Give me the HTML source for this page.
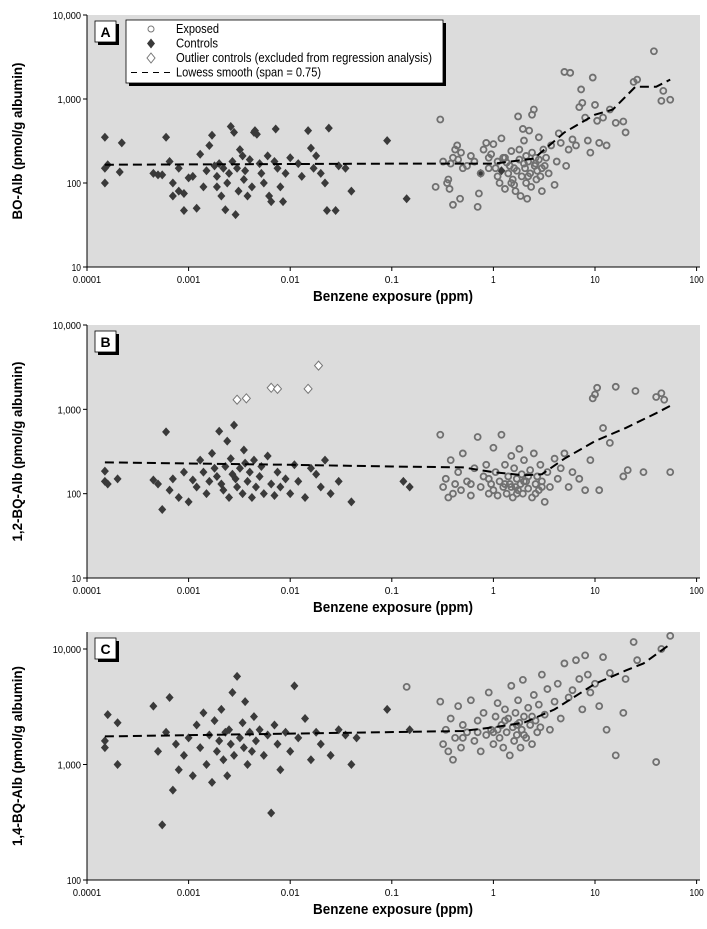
<!DOCTYPE html>
<html><head><meta charset="utf-8">
<style>
html,body{margin:0;padding:0;background:#fff;}
svg{display:block;}
text{font-family:"Liberation Sans Narrow","Liberation Sans",sans-serif;}
</style></head>
<body>
<svg id="fig" width="707" height="929" viewBox="0 0 707 929" xmlns="http://www.w3.org/2000/svg"></svg>
<script>
const xTickLabels=["0.0001","0.001","0.01","0.1","1","10","100"];
const yTicksAB=["10","100","1,000","10,000"];
const yTicksC=["100","1,000","10,000"];

const ctrlA=[[0.00015,350],[0.00015,150],[0.00015,100],[0.00016,165],[0.00022,300],[0.00021,135],[0.00045,130],[0.0005,125],[0.00055,125],[0.0006,350],[0.00065,180],[0.0007,100],[0.0007,70],[0.0008,80],[0.0008,150],[0.0009,75],[0.0009,47],[0.001,115],[0.0011,120],[0.0012,50],[0.0013,220],[0.0014,90],[0.0015,140],[0.0016,280],[0.0017,370],[0.0018,160],[0.0019,120],[0.0019,90],[0.002,170],[0.0021,70],[0.0022,150],[0.0023,48],[0.0024,100],[0.0025,130],[0.0026,470],[0.0027,180],[0.0028,400],[0.0029,42],[0.003,150],[0.0031,80],[0.0032,250],[0.0034,210],[0.0035,110],[0.0036,140],[0.0038,70],[0.004,190],[0.0042,90],[0.0044,400],[0.0045,420],[0.0047,380],[0.005,170],[0.0052,130],[0.0055,100],[0.006,210],[0.0062,70],[0.0065,60],[0.007,180],[0.0072,440],[0.0075,150],[0.008,90],[0.0085,60],[0.009,130],[0.01,200],[0.012,170],[0.013,120],[0.015,420],[0.016,260],[0.017,150],[0.018,210],[0.02,130],[0.022,100],[0.023,47],[0.024,450],[0.028,47],[0.03,160],[0.035,150],[0.04,80],[0.09,320],[0.14,65],[1.2,140],[0.75,130]];
const expA=[[0.27,90],[0.3,570],[0.32,180],[0.35,100],[0.36,110],[0.37,85],[0.38,170],[0.4,55],[0.4,200],[0.42,250],[0.44,280],[0.45,190],[0.47,65],[0.48,230],[0.5,150],[0.55,160],[0.6,210],[0.65,180],[0.7,52],[0.72,75],[0.75,130],[0.8,250],[0.85,300],[0.9,200],[0.95,220],[1,290],[1.05,150],[1.1,120],[1.15,100],[1.2,340],[1.25,200],[1.3,85],[1.35,175],[1.4,130],[1.45,160],[1.5,240],[1.55,110],[1.6,95],[1.65,80],[1.7,140],[1.75,620],[1.8,190],[1.85,70],[1.9,120],[1.95,440],[2,320],[2.05,150],[2.1,100],[2.15,65],[2.2,180],[2.25,420],[2.3,130],[2.35,90],[2.4,650],[2.5,750],[2.55,160],[2.6,200],[2.65,110],[2.7,140],[2.8,350],[2.9,120],[3,80],[3.1,250],[3.2,160],[3.3,200],[3.5,130],[3.7,280],[4,95],[4.2,180],[4.4,390],[4.6,300],[5,2100],[5.2,160],[5.5,250],[5.7,2050],[6,330],[6.5,280],[7,800],[7.3,1300],[7.5,900],[8,600],[8.5,320],[9,230],[9.5,1800],[10,850],[10.5,550],[11,300],[12,600],[13,280],[14,750],[16,520],[19,540],[20,400],[24,1600],[26,1700],[38,3700],[45,950],[47,1250],[55,980],[1.3,200],[1.6,150],[1.8,250],[2,170],[2.2,120],[2.4,230],[2.6,170],[2.8,190],[3,150],[1.1,180],[0.9,150],[1.5,100],[2.1,210]];
const lowA=[[0.00015,165],[0.1,170],[1,170],[2.5,195],[5,400],[10,650],[15,750],[25,1400],[40,1400],[55,1700]];

const ctrlB=[[0.00015,185],[0.00015,140],[0.00016,130],[0.0002,150],[0.00045,145],[0.0005,130],[0.00055,65],[0.0006,540],[0.00065,110],[0.0007,150],[0.0008,90],[0.0009,180],[0.001,80],[0.0011,145],[0.0012,120],[0.0013,250],[0.0014,180],[0.0015,100],[0.0016,140],[0.0017,300],[0.0018,200],[0.0019,160],[0.002,550],[0.0021,130],[0.0022,110],[0.0023,210],[0.0024,420],[0.0025,90],[0.0026,260],[0.0027,170],[0.0028,650],[0.0029,150],[0.003,120],[0.0032,200],[0.0034,100],[0.0035,330],[0.0036,230],[0.0038,140],[0.004,180],[0.0042,90],[0.0044,250],[0.0046,120],[0.005,160],[0.0052,210],[0.0055,100],[0.006,280],[0.0065,130],[0.007,95],[0.0075,180],[0.008,120],[0.009,150],[0.01,100],[0.011,220],[0.012,140],[0.014,90],[0.016,200],[0.018,170],[0.02,120],[0.022,250],[0.025,100],[0.03,140],[0.04,80],[0.13,140],[0.15,120]];
const outB=[[0.003,1300],[0.0037,1350],[0.0065,1800],[0.0075,1750],[0.015,1750],[0.019,3300]];
const expB=[[0.3,500],[0.32,120],[0.34,150],[0.36,90],[0.38,250],[0.4,100],[0.42,130],[0.45,180],[0.48,110],[0.5,300],[0.55,140],[0.6,95],[0.65,200],[0.7,470],[0.75,120],[0.8,160],[0.85,220],[0.9,100],[0.95,130],[1,350],[1.05,180],[1.1,95],[1.15,140],[1.2,500],[1.25,120],[1.3,220],[1.35,100],[1.4,160],[1.45,130],[1.5,280],[1.55,90],[1.6,200],[1.65,120],[1.7,150],[1.75,110],[1.8,340],[1.85,130],[1.9,170],[1.95,100],[2,250],[2.1,140],[2.2,115],[2.3,190],[2.4,90],[2.5,300],[2.6,130],[2.7,160],[2.8,110],[2.9,220],[3,140],[3.2,80],[3.4,180],[3.6,120],[4,260],[4.3,150],[4.6,200],[5,300],[5.5,120],[6,180],[7,150],[8,110],[9,250],[9.5,1350],[10,1500],[10.5,1800],[11,110],[12,600],[14,400],[16,1850],[19,160],[21,190],[25,1650],[30,180],[40,1400],[45,1550],[48,1300],[55,180],[0.6,130],[0.9,150],[1.3,130],[1.7,100],[2.2,160],[2.6,100],[3,120],[1,110],[1.5,120],[2,140]];
const lowB=[[0.00015,235],[0.01,220],[0.1,210],[0.5,205],[1,180],[2,165],[3,170],[5,260],[10,420],[20,600],[40,900],[55,1100]];

const ctrlC=[[0.00015,1400],[0.00015,1600],[0.00016,2700],[0.0002,1000],[0.0002,2300],[0.00045,3200],[0.0005,1300],[0.00055,300],[0.0006,1900],[0.00065,3800],[0.0007,600],[0.00075,1500],[0.0008,900],[0.0009,1200],[0.001,1700],[0.0011,800],[0.0012,2200],[0.0013,1400],[0.0014,2800],[0.0015,1000],[0.0016,1800],[0.0017,700],[0.0018,2400],[0.0019,1300],[0.002,1600],[0.0021,3000],[0.0022,1100],[0.0023,1900],[0.0024,800],[0.0025,2000],[0.0026,1500],[0.0027,4200],[0.0028,1200],[0.003,5800],[0.0032,1700],[0.0034,2300],[0.0035,1400],[0.0036,3500],[0.0038,1000],[0.004,1900],[0.0042,1300],[0.0044,2600],[0.0046,1600],[0.005,2000],[0.0055,1200],[0.006,1800],[0.0065,380],[0.007,2200],[0.0075,1500],[0.008,900],[0.009,1900],[0.01,1300],[0.011,4800],[0.012,1700],[0.014,2500],[0.016,1100],[0.018,1900],[0.02,1500],[0.025,1200],[0.03,2000],[0.035,1800],[0.04,1000],[0.045,1700],[0.09,3000],[0.15,2000]];
const expC=[[0.14,4700],[0.3,3500],[0.32,1500],[0.34,2000],[0.36,1300],[0.38,2500],[0.4,1100],[0.42,1700],[0.45,3200],[0.48,1400],[0.5,2200],[0.55,1900],[0.6,3600],[0.65,1600],[0.7,2400],[0.75,1300],[0.8,2800],[0.85,1800],[0.9,4200],[0.95,2000],[1,1500],[1.05,2600],[1.1,3400],[1.15,1700],[1.2,2200],[1.25,1400],[1.3,3000],[1.35,1900],[1.4,2500],[1.45,1200],[1.5,4800],[1.55,2100],[1.6,1600],[1.65,2800],[1.7,1800],[1.75,3600],[1.8,2300],[1.85,1400],[1.9,2000],[1.95,5400],[2,2600],[2.1,1700],[2.2,3100],[2.3,2200],[2.4,1500],[2.5,4000],[2.6,2400],[2.7,1900],[2.8,3300],[2.9,2100],[3,6000],[3.2,2700],[3.4,4500],[3.6,2000],[4,3500],[4.3,5000],[4.6,2500],[5,7500],[5.5,3800],[6,4400],[6.5,8000],[7,5500],[7.5,3000],[8,8800],[8.5,6000],[9,4200],[10,5000],[11,3200],[12,8500],[13,2000],[14,6200],[16,1200],[19,2800],[20,5500],[24,11500],[26,8000],[40,1050],[45,10000],[55,13000],[0.5,1700],[1,1900],[1.3,2400],[1.7,2200],[2,1800],[2.4,2600],[0.7,1900],[1.1,2000]];
const lowC=[[0.00015,1750],[0.01,1850],[0.5,1950],[1,2100],[2,2300],[4,3000],[10,5000],[20,6500],[30,7500],[55,11000]];

const svg=document.getElementById('fig');
const NS="http://www.w3.org/2000/svg";
function mk(tag,attrs,parent,txt){const e=document.createElementNS(NS,tag);for(const k in attrs)e.setAttribute(k,attrs[k]);if(txt!=null)e.textContent=txt;(parent||svg).appendChild(e);return e;}

const X0=87,X1=700,DEC=101.6;
function xs(v){return X0+(Math.log10(v)+4)*DEC;}

function panel(cfg){
  const g=mk('g',{});
  
  
  const yDec=(cfg.bottom-cfg.tickTop)/(cfg.yTicks.length-1);
  const ys=v=>cfg.bottom-(Math.log10(v)-cfg.yMinLog)*yDec;
  const bg=mk('rect',{x:X0,y:cfg.top,width:X1-X0,height:cfg.bottom-cfg.top,fill:'#dcdcdc'},g);
  
  
  mk('line',{x1:X0,y1:cfg.top,x2:X0,y2:cfg.bottom,stroke:'#000','stroke-width':1},g);
  mk('line',{x1:X0,y1:cfg.bottom,x2:X1,y2:cfg.bottom,stroke:'#000','stroke-width':1},g);
  cfg.yTicks.forEach((t,i)=>{const y=ys(Math.pow(10,cfg.yMinLog+i));
    mk('line',{x1:X0-4,y1:y,x2:X0,y2:y,stroke:'#000'},g);
    const tl=mk('text',{x:X0-6,y:y+4,'text-anchor':'end','font-size':10.5,textLength:t.length*4.7,lengthAdjust:'spacingAndGlyphs'},g,t);
    
    });
  xTickLabels.forEach((t,i)=>{const x=X0+i*DEC;
    mk('line',{x1:x,y1:cfg.bottom,x2:x,y2:cfg.bottom+4,stroke:'#000'},g);
    const tl=mk('text',{x:x,y:cfg.bottom+16,'text-anchor':'middle','font-size':10.5,textLength:t.length*4.7,lengthAdjust:'spacingAndGlyphs'},g,t);
    
    });
  const xt=mk('text',{x:393,y:cfg.bottom+34,'text-anchor':'middle','font-size':15,'font-weight':'bold',textLength:160,lengthAdjust:'spacingAndGlyphs'},g,'Benzene exposure (ppm)');
  
  
  const cy=(cfg.top+cfg.bottom)/2;
  const yt=mk('text',{x:22,y:cy,'text-anchor':'middle','font-size':14,'font-weight':'bold',transform:`rotate(-90 22 ${cy})`,textLength:cfg.ytl,lengthAdjust:'spacingAndGlyphs'},g,cfg.ytitle);
  
  
  cfg.ctrl.forEach(d=>{const x=xs(d[0]),y=ys(d[1]);
    const p=mk('polygon',{points:`${x},${y-4.5} ${x+4},${y} ${x},${y+4.5} ${x-4},${y}`,fill:'#3a3a3a'},g);
    
    });
  (cfg.out||[]).forEach(d=>{const x=xs(d[0]),y=ys(d[1]);
    const p=mk('polygon',{points:`${x},${y-4.5} ${x+4},${y} ${x},${y+4.5} ${x-4},${y}`,fill:'#fff',stroke:'#777','stroke-width':1},g);
    
    });
  cfg.exp.forEach(d=>{
    const c=mk('circle',{cx:xs(d[0]),cy:ys(d[1]),r:3,fill:'none',stroke:'#707070','stroke-width':1.8},g);
    
    });
  const l=mk('polyline',{points:cfg.low.map(d=>xs(d[0])+','+ys(d[1])).join(' '),fill:'none',stroke:'#000','stroke-width':2,'stroke-dasharray':'9,5'},g);
  
  
  const by=cfg.top+6;
  mk('rect',{x:98,y:by+3,width:21,height:21,fill:'#000'},g);
  const lb=mk('rect',{x:95,y:by,width:21,height:21,fill:'#fff',stroke:'#000','stroke-width':0.8},g);
  
  
  mk('text',{x:105.5,y:by+16,'text-anchor':'middle','font-size':14,'font-weight':'bold'},g,cfg.id);
}

panel({id:'A',top:15,bottom:267,tickTop:15,yMinLog:1,yTicks:yTicksAB,ytitle:'BO-Alb (pmol/g albumin)',ytl:157,ctrl:ctrlA,exp:expA,low:lowA});
panel({id:'B',top:325,bottom:578,tickTop:325,yMinLog:1,yTicks:yTicksAB,ytitle:'1,2-BQ-Alb (pmol/g albumin)',ytl:180,ctrl:ctrlB,out:outB,exp:expB,low:lowB});
panel({id:'C',top:632,bottom:880,tickTop:649,yMinLog:2,yTicks:yTicksC,ytitle:'1,4-BQ-Alb (pmol/g albumin)',ytl:180,ctrl:ctrlC,exp:expC,low:lowC});

const lg=mk('g',{});


mk('rect',{x:129,y:23,width:317,height:63,fill:'#000'},lg);
mk('rect',{x:126,y:20,width:317,height:63,fill:'#fff',stroke:'#000','stroke-width':0.8},lg);
const items=[['Exposed','circle',43],['Controls','diamond',42],['Outlier controls (excluded from regression analysis)','odiamond',256],['Lowess smooth (span = 0.75)','line',145]];
items.forEach((it,i)=>{const y=33+i*14.5;
  if(it[1]==='circle')mk('circle',{cx:151,cy:y-4,r:3,fill:'none',stroke:'#777','stroke-width':1},lg);
  if(it[1]==='diamond')mk('polygon',{points:`151,${y-9} 155,${y-4} 151,${y+1} 147,${y-4}`,fill:'#3a3a3a'},lg);
  if(it[1]==='odiamond')mk('polygon',{points:`151,${y-9} 155,${y-4} 151,${y+1} 147,${y-4}`,fill:'#fff',stroke:'#777'},lg);
  if(it[1]==='line')mk('line',{x1:131,y1:y-4,x2:172,y2:y-4,stroke:'#000','stroke-width':1,'stroke-dasharray':'6,5'},lg);
  const t=mk('text',{x:176,y:y,'font-size':12.5,textLength:it[2],lengthAdjust:'spacingAndGlyphs'},lg,it[0]);
  
  
});
</script>
</body></html>
